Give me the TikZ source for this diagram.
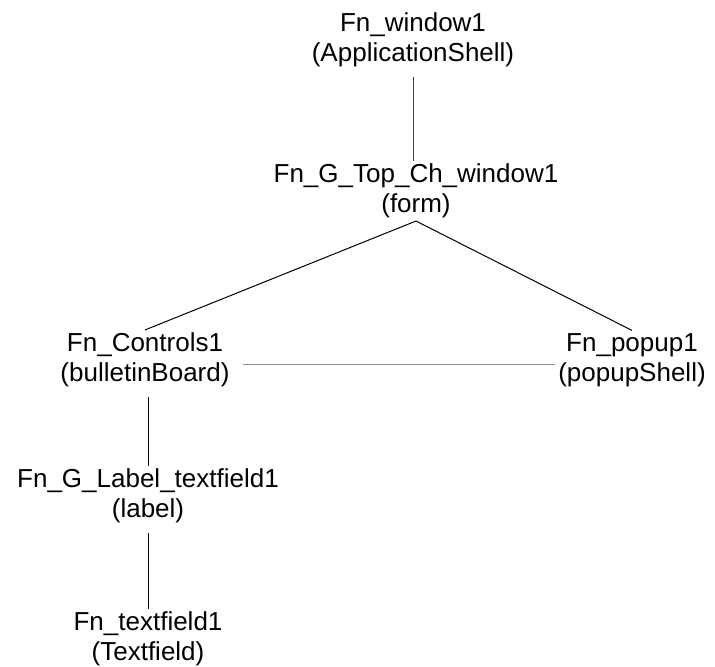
\documentclass[tikz,border=0pt]{standalone}
\usepackage{fontspec}
\setmainfont{Liberation Sans}
\usetikzlibrary{positioning}
\tikzset{
  every picture/.style={font=\fontsize{19.5}{22.5}\selectfont},
  widget/.style={align=center,inner sep=2pt},
  link/.style={line width=0.75pt},
  stem/.style={link,draw=black!75,shorten <=5pt},
  sibling/.style={link,draw=black!45,shorten <=8pt},
}

\begin{document}
\begin{tikzpicture}[x=0.75pt,y=-0.75pt]
  \useasboundingbox (0,0) rectangle (715,667);
  % widget tree
  \node[widget] (win) at (413,40) {Fn\_window1\\(ApplicationShell)};
  \node[widget] (form) at (416,191) {Fn\_G\_Top\_Ch\_window1\\(form)};
  \node[widget] (controls) at (145,360) {Fn\_Controls1\\(bulletinBoard)};
  \node[widget] (popup) at (632,360) {Fn\_popup1\\(popupShell)};
  \node[widget] (label) at (148,496) {Fn\_G\_Label\_textfield1\\(label)};
  \node[widget] (field) at (148,639) {Fn\_textfield1\\(Textfield)};
  % connectors
  \draw[stem] (win.south) -- (win.south |- form.north);
  \draw[link] (form.south) -- (controls.north);
  \draw[link] (form.south) -- (popup.north);
  \draw[sibling] ([yshift=-3pt]controls.east) -- ([yshift=-3pt]popup.west);
  \draw[stem,draw=black] (label.north |- controls.south) -- (label.north);
  \draw[stem,draw=black] (label.south) -- (field.north);
\end{tikzpicture}
\end{document}
